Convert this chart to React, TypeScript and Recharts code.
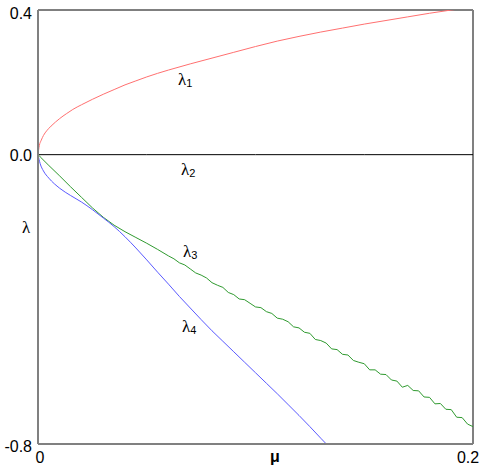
import React from 'react';
import { LineChart, Line, XAxis, YAxis, ReferenceLine } from 'recharts';

// λ1 (red)
const RED_MU = [0, 0.0006, 0.0015, 0.0025, 0.004, 0.006, 0.008, 0.01, 0.013, 0.016, 0.02, 0.025, 0.03, 0.035, 0.04, 0.045, 0.05, 0.06, 0.07, 0.08, 0.09, 0.1, 0.11, 0.12, 0.13, 0.14, 0.15, 0.16, 0.17, 0.18, 0.19, 0.2];
const RED_L = [0, 0.025, 0.04, 0.053, 0.066, 0.079, 0.09, 0.1, 0.113, 0.125, 0.138, 0.153, 0.167, 0.18, 0.193, 0.204, 0.215, 0.234, 0.251, 0.267, 0.283, 0.299, 0.314, 0.327, 0.339, 0.35, 0.361, 0.371, 0.381, 0.391, 0.4, 0.408];

// λ2 (black, zero)
const BLACK_MU = [0, 0.05, 0.1, 0.15, 0.2];
const BLACK_L = [0, 0, 0, 0, 0];

// λ3 (green)
const GREEN_MU = [0, 0.001, 0.005, 0.01, 0.015, 0.02, 0.025, 0.03, 0.035, 0.04, 0.045, 0.05, 0.055,
  0.06, 0.0625, 0.065, 0.0675, 0.07, 0.0725, 0.075, 0.0775, 0.08, 0.0825, 0.085, 0.0875, 0.09, 0.0925,
  0.095, 0.0975, 0.1, 0.1025, 0.105, 0.1075, 0.11, 0.1125, 0.115, 0.1175, 0.12, 0.1225, 0.125, 0.1275,
  0.13, 0.1325, 0.135, 0.1375, 0.14, 0.1425, 0.145, 0.1475, 0.15, 0.1525, 0.155, 0.1575, 0.16, 0.1625,
  0.165, 0.1675, 0.17, 0.1725, 0.175, 0.1775, 0.18, 0.1825, 0.185, 0.1875, 0.19, 0.1925, 0.195, 0.1975, 0.2];
const GREEN_L = [0, -0.006, -0.03, -0.059, -0.089, -0.118, -0.147, -0.173, -0.195, -0.213, -0.229, -0.245, -0.262,
  -0.28, -0.288, -0.299, -0.305, -0.316, -0.327, -0.333, -0.341, -0.354, -0.361, -0.367, -0.381, -0.387, -0.399,
  -0.401, -0.411, -0.421, -0.423, -0.434, -0.439, -0.452, -0.455, -0.462, -0.476, -0.479, -0.491, -0.494, -0.511,
  -0.514, -0.521, -0.537, -0.539, -0.552, -0.554, -0.569, -0.574, -0.578, -0.595, -0.595, -0.607, -0.608, -0.623,
  -0.626, -0.643, -0.638, -0.652, -0.653, -0.67, -0.671, -0.689, -0.688, -0.704, -0.705, -0.726, -0.727, -0.745, -0.752];

// λ4 (blue)
const BLUE_MU = [0, 0.001, 0.0025, 0.005, 0.01, 0.015, 0.02, 0.025, 0.03, 0.035, 0.04, 0.045, 0.05, 0.055, 0.06, 0.065, 0.07, 0.075, 0.08, 0.085, 0.09, 0.095, 0.1, 0.105, 0.11, 0.115, 0.12, 0.125, 0.13, 0.135];
const BLUE_L = [0, -0.025, -0.045, -0.065, -0.093, -0.113, -0.131, -0.152, -0.175, -0.199, -0.227, -0.258, -0.291, -0.325, -0.358, -0.392, -0.424, -0.456, -0.487, -0.516, -0.545, -0.574, -0.603, -0.632, -0.661, -0.691, -0.721, -0.752, -0.784, -0.815];

const Y_TICKS = [0.4, 0, -0.8];
const X_TICKS = [0, 0.2];
const X_TICK_LABELS = ['0', '0.2'];

const zip = (mu: number[], l: number[]) => mu.map((m, i) => ({ mu: m, v: l[i] }));
const redData = zip(RED_MU, RED_L);
const blackData = zip(BLACK_MU, BLACK_L);
const greenData = zip(GREEN_MU, GREEN_L);
const blueData = zip(BLUE_MU, BLUE_L);

const SANS = 'Liberation Sans, Arial, sans-serif';
const SERIF = 'Liberation Serif, Times New Roman, serif';

const YTick = (props: any) => {
  const { x, y, payload } = props;
  const v = payload.value;
  const dy = v === 0.4 ? 3 : v === -0.8 ? 2 : 1;
  return (
    <text x={x} y={y + dy} textAnchor="end" dominantBaseline="central" fontFamily={SANS} fontSize={16} fill="#000">
      {v.toFixed(1)}
    </text>
  );
};

const XTick = (props: any) => {
  const { x, y, payload } = props;
  const v = payload.value;
  const idx = X_TICKS.indexOf(v);
  const dx = v === 0 ? 2 : -5;
  return (
    <text x={x + dx} y={y + 19} textAnchor="middle" fontFamily={SANS} fontSize={16} fill="#000">
      {X_TICK_LABELS[idx]}
    </text>
  );
};

const Lam = ({ x, y, sub }: { x: number; y: number; sub: string }) => (
  <text x={x} y={y} fontFamily={SERIF} fontSize={17} fill="#000">
    λ
    <tspan fontFamily={SANS} fontSize={11} dy={2}>{sub}</tspan>
  </text>
);

export default function App() {
  return (
    <div style={{ position: 'absolute', left: 0, top: 0, background: '#fff' }}>
      <LineChart width={485} height={470} margin={{ top: 10, right: 12, bottom: 0, left: 0 }}>
        <XAxis
          dataKey="mu"
          type="number"
          domain={[0, 0.2]}
          ticks={X_TICKS}
          allowDataOverflow
          height={26}
          tickSize={0}
          tickMargin={0}
          tick={<XTick />}
          axisLine={{ stroke: '#808080', strokeWidth: 2 }}
          tickLine={false}
        />
        <YAxis
          type="number"
          domain={[-0.8, 0.4]}
          ticks={Y_TICKS}
          allowDataOverflow
          width={38}
          tickSize={0}
          tickMargin={6}
          tick={<YTick />}
          axisLine={{ stroke: '#808080', strokeWidth: 2 }}
          tickLine={false}
        />
        <ReferenceLine y={0.4} stroke="#000" strokeWidth={1} />
        <ReferenceLine x={0.2} stroke="#808080" strokeWidth={2} />
        <Line data={blackData} dataKey="v" type="linear" stroke="#000" strokeWidth={1} dot={false} isAnimationActive={false} />
        <Line data={redData} dataKey="v" type="monotone" stroke="#ff7070" strokeWidth={1} dot={false} isAnimationActive={false} />
        <Line data={greenData} dataKey="v" type="linear" stroke="#2f9a2f" strokeWidth={1} dot={false} isAnimationActive={false} />
        <Line data={blueData} dataKey="v" type="monotone" stroke="#5a5aff" strokeWidth={1} dot={false} isAnimationActive={false} />
        <Lam x={178} y={85} sub="1" />
        <Lam x={181} y={175} sub="2" />
        <Lam x={183} y={257} sub="3" />
        <Lam x={182} y={332} sub="4" />
        <text x={22} y={233} fontFamily={SERIF} fontSize={17} fill="#000">λ</text>
        <text x={275} y={462} textAnchor="middle" fontFamily={SANS} fontSize={16} fontWeight="bold" fill="#000">μ</text>
      </LineChart>
    </div>
  );
}
